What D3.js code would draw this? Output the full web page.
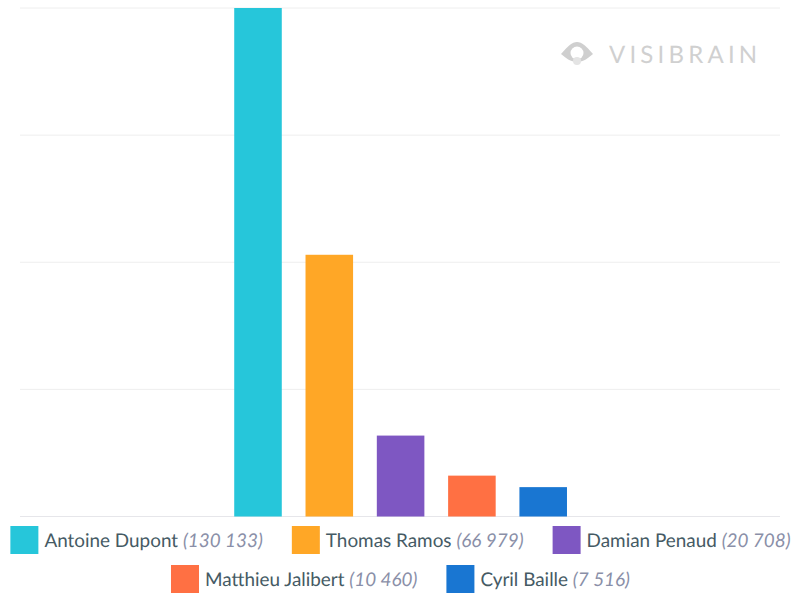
<!DOCTYPE html>
<html>
<head>
<meta charset="utf-8">
<script src="https://cdn.jsdelivr.net/npm/d3@7"></script>
<style>
  html, body { margin: 0; padding: 0; background: #fff; }
  svg { display: block; }
  text { font-family: Lato, sans-serif; text-rendering: geometricPrecision; }
</style>
</head>
<body>
<div id="chart"></div>
<script>
const names = ['Antoine Dupont', 'Thomas Ramos', 'Damian Penaud', 'Matthieu Jalibert', 'Cyril Baille'];
const values = [130133, 66979, 20708, 10460, 7516];
const valueLabels = ['130 133', '66 979', '20 708', '10 460', '7 516'];
const colors = ['#26c6da', '#ffa726', '#7e57c2', '#ff7043', '#1976d2'];
const legendRows = [[0, 1, 2], [3, 4]];

const width = 792, height = 594;
const margin = {top: 8, right: 12, bottom: 77.5, left: 20};
const plotWidth = width - margin.left - margin.right;
const plotHeight = height - margin.top - margin.bottom;

const svg = d3.select('#chart').append('svg')
  .attr('width', width)
  .attr('height', height);

const g = svg.append('g')
  .attr('transform', 'translate(' + margin.left + ',' + margin.top + ')');

const y = d3.scaleLinear().domain([0, d3.max(values)]).range([plotHeight, 0]);

// bars are grouped round the centre of the plot
const groupWidth = 356.5;
const groupCentre = plotWidth / 2 + 0.6;
const x = d3.scaleBand()
  .domain(names)
  .range([groupCentre - groupWidth / 2, groupCentre + groupWidth / 2])
  .paddingInner(0.333)
  .paddingOuter(0.1665);

// Grid lines
g.append('g')
  .attr('class', 'grid')
  .selectAll('line')
  .data(d3.range(5).map(i => d3.max(values) * i / 4))
  .enter().append('line')
    .attr('x1', 0)
    .attr('x2', plotWidth)
    .attr('y1', d => y(d))
    .attr('y2', d => y(d))
    .attr('stroke', (d, i) => i === 0 ? '#e6e6ea' : '#eeeeee')
    .attr('stroke-width', 1);

// Bars
g.append('g')
  .attr('class', 'bars')
  .selectAll('rect')
  .data(names)
  .enter().append('rect')
    .attr('x', d => x(d))
    .attr('y', (d, i) => y(values[i]))
    .attr('width', x.bandwidth())
    .attr('height', (d, i) => plotHeight - y(values[i]))
    .attr('fill', (d, i) => colors[i]);

// Watermark
const logo = svg.append('g')
  .attr('class', 'logo')
  .attr('transform', 'translate(561,54)');

logo.append('path')
  .attr('d', 'M0,0 C7,-8 11,-12 16,-12 C21,-12 25,-8 32,0 C25,6 21,8 16,8 C11,8 7,6 0,0 Z')
  .attr('fill', '#cfcfcf');
logo.append('circle')
  .attr('cx', 16)
  .attr('cy', -1)
  .attr('r', 6.5)
  .attr('fill', '#fff');
logo.append('circle')
  .attr('cx', 16)
  .attr('cy', 7)
  .attr('r', 4)
  .attr('fill', '#e4e4e4');
logo.append('text')
  .attr('x', 48)
  .attr('y', 9)
  .attr('font-size', 24)
  .attr('letter-spacing', 4.2)
  .attr('fill', '#d0d0d0')
  .text('VISIBRAIN');

// Legend
const legend = {size: 28, gap: 6, spacing: 29, fontSize: 18.9, rowHeight: 39, top: 526};

legendRows.forEach((row, r) => {
  const rowG = svg.append('g')
    .attr('class', 'legend-row')
    .attr('transform', 'translate(0,' + (legend.top + r * legend.rowHeight) + ')');

  let cursor = 0;
  row.forEach(idx => {
    const item = rowG.append('g').attr('transform', 'translate(' + cursor + ',0)');

    item.append('rect')
      .attr('width', legend.size)
      .attr('height', legend.size)
      .attr('fill', colors[idx]);

    const label = item.append('text')
      .attr('x', legend.size + legend.gap)
      .attr('y', 21)
      .attr('font-size', legend.fontSize)
      .attr('fill', '#455a64')
      .text(names[idx] + ' ');

    label.append('tspan')
      .attr('font-style', 'italic')
      .attr('fill', '#8a8fa8')
      .text('(' + valueLabels[idx] + ')');

    cursor += legend.size + legend.gap + label.node().getComputedTextLength() + legend.spacing;
  });

  // centre the row under the chart
  const rowWidth = cursor - legend.spacing;
  rowG.attr('transform', 'translate(' + (400.5 - rowWidth / 2) + ',' + (legend.top + r * legend.rowHeight) + ')');
});
</script>
</body>
</html>
